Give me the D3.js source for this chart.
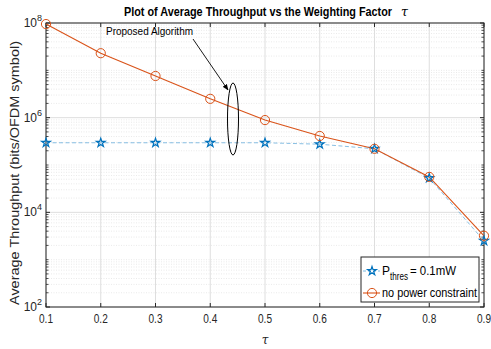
<!DOCTYPE html>
<html>
<head>
<meta charset="utf-8">
<script src="https://cdn.jsdelivr.net/npm/d3@7"></script>
<style>
  body { margin: 0; background: #fff; }
  text { font-family: "Liberation Sans", Arial, sans-serif; }
</style>
</head>
<body>
<div id="chart"></div>
<script>
// data
const tau = [0.1, 0.2, 0.3, 0.4, 0.5, 0.6, 0.7, 0.8, 0.9];
const thresValues = [2.95e5, 2.95e5, 2.95e5, 2.95e5, 2.95e5, 2.75e5, 2.2e5, 5.3e4, 2.5e3];
const noConstraintValues = [9.5e7, 2.3e7, 7.6e6, 2.5e6, 8.9e5, 4.1e5, 2.2e5, 5.6e4, 3.2e3];
const xTicks = [0.1, 0.2, 0.3, 0.4, 0.5, 0.6, 0.7, 0.8, 0.9];
const yTickExps = [2, 4, 6, 8];

const W = 491, H = 349;
const margin = { top: 23, right: 7, bottom: 42, left: 46 };
const width = W - margin.left - margin.right;
const height = H - margin.top - margin.bottom;

const svg = d3.select("#chart").append("svg")
  .attr("width", W).attr("height", H);

const g = svg.append("g")
  .attr("transform", `translate(${margin.left},${margin.top})`);

const x = d3.scaleLinear().domain([0.1, 0.9]).range([0, width]);
const y = d3.scaleLog().domain([1e2, 1e8]).range([height, 0]);

// squeeze text to look like the condensed font of the original
function narrow(sel, len) {
  return sel.attr("textLength", len).attr("lengthAdjust", "spacingAndGlyphs");
}

// minor grid
const minorVals = [];
for (let e = 2; e < 8; e++) {
  for (let m = 2; m <= 10; m++) {
    if (m === 10 && (e + 1) % 2 === 0) continue;
    minorVals.push(m * Math.pow(10, e));
  }
}
g.append("g").selectAll("line").data(minorVals).join("line")
  .attr("x1", 0).attr("x2", width)
  .attr("y1", d => y(d)).attr("y2", d => y(d))
  .attr("stroke", "#dcdcdc").attr("stroke-width", 0.6)
  .attr("stroke-dasharray", "1,1.5");

// major grid
g.append("g").selectAll("line").data(yTickExps).join("line")
  .attr("x1", 0).attr("x2", width)
  .attr("y1", d => y(Math.pow(10, d))).attr("y2", d => y(Math.pow(10, d)))
  .attr("stroke", "#dedede").attr("stroke-width", 1);
g.append("g").selectAll("line").data(xTicks).join("line")
  .attr("x1", d => x(d)).attr("x2", d => x(d))
  .attr("y1", 0).attr("y2", height)
  .attr("stroke", "#dedede").attr("stroke-width", 1);

// axes box with ticks on all sides
const tickLen = 4;
const axisG = g.append("g").attr("stroke", "#262626").attr("stroke-width", 1);
axisG.append("rect").attr("x", 0).attr("y", 0).attr("width", width).attr("height", height)
  .attr("fill", "none");
xTicks.forEach(t => {
  axisG.append("line").attr("x1", x(t)).attr("x2", x(t)).attr("y1", height).attr("y2", height - tickLen);
  axisG.append("line").attr("x1", x(t)).attr("x2", x(t)).attr("y1", 0).attr("y2", tickLen);
});
yTickExps.forEach(e => {
  const yy = y(Math.pow(10, e));
  axisG.append("line").attr("x1", 0).attr("x2", tickLen).attr("y1", yy).attr("y2", yy);
  axisG.append("line").attr("x1", width).attr("x2", width - tickLen).attr("y1", yy).attr("y2", yy);
});
minorVals.forEach(v => {
  const yy = y(v);
  axisG.append("line").attr("x1", 0).attr("x2", 2.5).attr("y1", yy).attr("y2", yy).attr("stroke-width", 0.8);
  axisG.append("line").attr("x1", width).attr("x2", width - 2.5).attr("y1", yy).attr("y2", yy).attr("stroke-width", 0.8);
});

// tick labels
g.append("g").selectAll("text").data(xTicks).join("text")
  .attr("x", d => x(d)).attr("y", height + 16)
  .attr("text-anchor", "middle").attr("font-size", 12).attr("fill", "#262626")
  .attr("textLength", 14).attr("lengthAdjust", "spacingAndGlyphs")
  .text(d => d3.format(".1f")(d));

const yl = g.append("g").selectAll("text").data(yTickExps).join("text")
  .attr("x", -4).attr("y", d => y(Math.pow(10, d)) + 4)
  .attr("text-anchor", "end").attr("font-size", 12).attr("fill", "#262626");
yl.append("tspan").text("10");
yl.append("tspan").attr("dy", -6).attr("font-size", 9).text(d => d);

// series
const line = d3.line().x((d, i) => x(tau[i])).y(d => y(d));

g.append("path").datum(thresValues)
  .attr("d", line).attr("fill", "none")
  .attr("stroke", "#7ab8e0").attr("stroke-width", 0.9).attr("stroke-dasharray", "4,2.5");

g.append("path").datum(noConstraintValues)
  .attr("d", line).attr("fill", "none")
  .attr("stroke", "#D95319").attr("stroke-width", 1.1);

const star = d3.symbol().type(d3.symbolStar).size(24);
g.append("g").selectAll("path").data(thresValues).join("path")
  .attr("d", star)
  .attr("transform", (d, i) => `translate(${x(tau[i])},${y(d)})`)
  .attr("fill", "none").attr("stroke", "#0072BD").attr("stroke-width", 1.2);

g.append("g").selectAll("circle").data(noConstraintValues).join("circle")
  .attr("cx", (d, i) => x(tau[i])).attr("cy", d => y(d)).attr("r", 4.6)
  .attr("fill", "none").attr("stroke", "#D95319").attr("stroke-width", 1);

// annotation
svg.append("defs").append("marker")
  .attr("id", "arr").attr("viewBox", "0 0 10 10").attr("refX", 9).attr("refY", 5)
  .attr("markerWidth", 7).attr("markerHeight", 7).attr("orient", "auto")
  .append("path").attr("d", "M0,1 L10,5 L0,9 z").attr("fill", "#000");

narrow(svg.append("text").attr("x", 106).attr("y", 35)
  .attr("font-size", 11.5).attr("fill", "#000"), 87).text("Proposed Algorithm");
svg.append("line").attr("x1", 193).attr("y1", 39).attr("x2", 228).attr("y2", 90)
  .attr("stroke", "#000").attr("stroke-width", 0.9).attr("marker-end", "url(#arr)");
svg.append("ellipse").attr("cx", 233).attr("cy", 119).attr("rx", 5.5).attr("ry", 36)
  .attr("fill", "none").attr("stroke", "#000").attr("stroke-width", 1);

// legend
const lg = svg.append("g").attr("transform", "translate(361,257)");
lg.append("rect").attr("width", 118).attr("height", 45)
  .attr("fill", "#fff").attr("stroke", "#262626").attr("stroke-width", 1);
lg.append("line").attr("x1", 2).attr("x2", 19).attr("y1", 14).attr("y2", 14)
  .attr("stroke", "#7ab8e0").attr("stroke-dasharray", "3,2");
lg.append("path").attr("d", star).attr("transform", "translate(11,14)")
  .attr("fill", "none").attr("stroke", "#0072BD").attr("stroke-width", 1.2);
const t1 = lg.append("text").attr("y", 18).attr("font-size", 12).attr("fill", "#000");
narrow(t1.append("tspan").attr("x", 21), 8).text("P");
narrow(t1.append("tspan").attr("x", 29).attr("dy", 5).attr("font-size", 10), 18).text("thres");
narrow(t1.append("tspan").attr("x", 49).attr("dy", -5), 46).text("= 0.1mW");
lg.append("line").attr("x1", 2).attr("x2", 19).attr("y1", 36).attr("y2", 36)
  .attr("stroke", "#D95319").attr("stroke-width", 1.1);
lg.append("circle").attr("cx", 11).attr("cy", 36).attr("r", 4.6)
  .attr("fill", "none").attr("stroke", "#D95319");
narrow(lg.append("text").attr("x", 21).attr("y", 40).attr("font-size", 12).attr("fill", "#000"), 95)
  .text("no power constraint");

// title
narrow(svg.append("text").attr("x", 124).attr("y", 16)
  .attr("font-size", 12.5).attr("font-weight", "bold").attr("fill", "#000"), 268)
  .text("Plot of Average Throughput vs the Weighting Factor");
svg.append("text").attr("x", 401).attr("y", 16)
  .attr("font-size", 12.5).attr("font-style", "italic")
  .style("font-family", "DejaVu Serif, serif").attr("fill", "#000").text("τ");

// axis labels
svg.append("text").attr("x", 265).attr("y", 344)
  .attr("text-anchor", "middle").attr("font-size", 12).attr("font-style", "italic")
  .style("font-family", "DejaVu Serif, serif").attr("fill", "#262626").text("τ");

narrow(svg.append("text")
  .attr("transform", "translate(19,173) rotate(-90)")
  .attr("text-anchor", "middle").attr("font-size", 12).attr("fill", "#262626"), 264)
  .text("Average Throughput (bits/OFDM symbol)");
</script>
</body>
</html>
